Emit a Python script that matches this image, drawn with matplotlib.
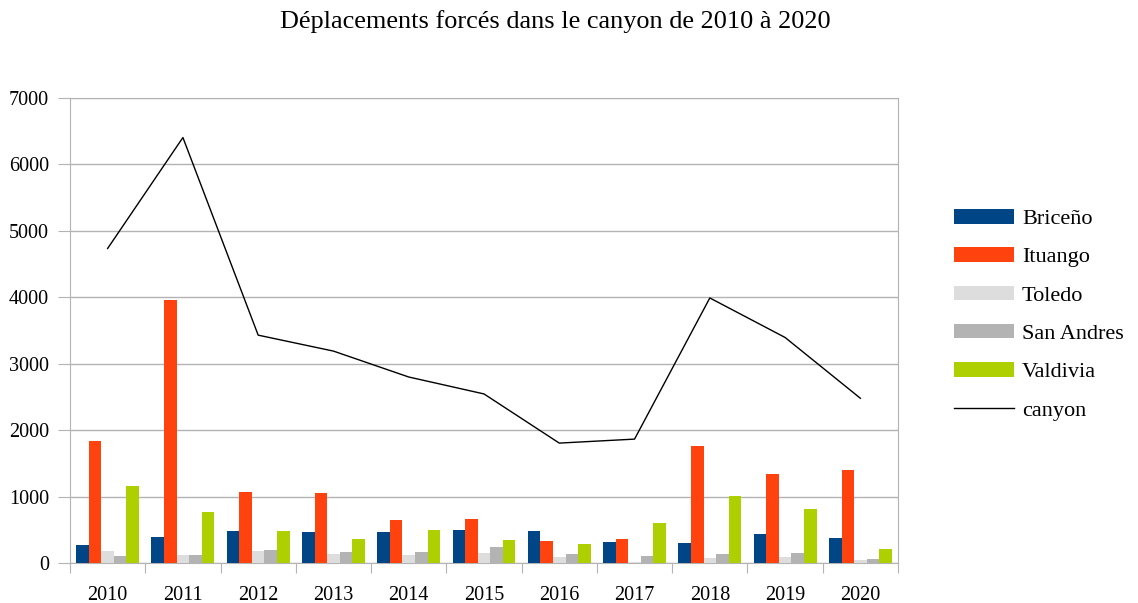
import matplotlib
matplotlib.use("Agg")
import matplotlib.pyplot as plt
import numpy as np

plt.rcParams['font.family'] = ['Liberation Serif', 'DejaVu Serif']

years = ["2010", "2011", "2012", "2013", "2014", "2015", "2016", "2017", "2018", "2019", "2020"]
briceno = [265, 385, 475, 460, 460, 490, 475, 310, 295, 430, 370]
ituango = [1835, 3955, 1065, 1050, 645, 660, 325, 355, 1755, 1335, 1395]
toledo = [175, 115, 175, 130, 115, 145, 85, 15, 70, 85, 40]
san_andres = [100, 115, 190, 160, 160, 235, 130, 100, 130, 145, 55]
valdivia = [1155, 765, 475, 355, 490, 340, 280, 600, 1005, 810, 205]
canyon = [4735, 6405, 3430, 3190, 2800, 2545, 1805, 1865, 3990, 3395, 2480]

series = [("Briceño", briceno, "#004586"),
          ("Ituango", ituango, "#ff420e"),
          ("Toledo", toledo, "#dddddd"),
          ("San Andres", san_andres, "#b3b3b3"),
          ("Valdivia", valdivia, "#aecf00")]

fig = plt.figure(figsize=(11.38, 6.03), dpi=100)
ax = fig.add_axes([70/1138, 40/603, 828/1138, 465/603])

x = np.arange(len(years))
w = 0.167
handles = []
for i, (name, vals, col) in enumerate(series):
    h = ax.bar(x + (i - 2) * w, vals, width=w, color=col, label=name, zorder=3)
    handles.append(h)
ln, = ax.plot(x, canyon, color="black", lw=1, label="canyon", zorder=4)
handles.append(ln)

ax.set_xlim(-0.5, len(years) - 0.5)
ax.set_ylim(0, 7000)
ax.set_yticks(range(0, 7001, 1000))
ax.yaxis.grid(True, color="#b3b3b3", lw=1, zorder=0)
for s in ax.spines.values():
    s.set_color("#b3b3b3")
ax.tick_params(axis='y', colors="#b3b3b3", length=8.5, labelcolor="black", labelsize=14.5, pad=6.5)
ax.set_xticks(np.arange(-0.5, len(years), 1))
ax.set_xticklabels([])
ax.set_xticks(x, minor=True)
ax.set_xticklabels(years, minor=True)
ax.tick_params(axis='x', which='major', colors="#b3b3b3", length=7.5)
ax.tick_params(axis='x', which='minor', length=0, labelsize=14.5, pad=16.5)

fig.text(555/1138, 1 - 22/603, "Déplacements forcés dans le canyon de 2010 à 2020",
         ha="center", va="center", fontsize=18.9)

leg = ax.legend(handles=handles, loc="upper left", bbox_to_anchor=(934/1138, 1 - 189/603),
                bbox_transform=fig.transFigure,
                frameon=False, fontsize=16, handlelength=2.7, handleheight=0.63,
                labelspacing=0.82, handletextpad=0.36)

fig.savefig("out.png", dpi=100)
